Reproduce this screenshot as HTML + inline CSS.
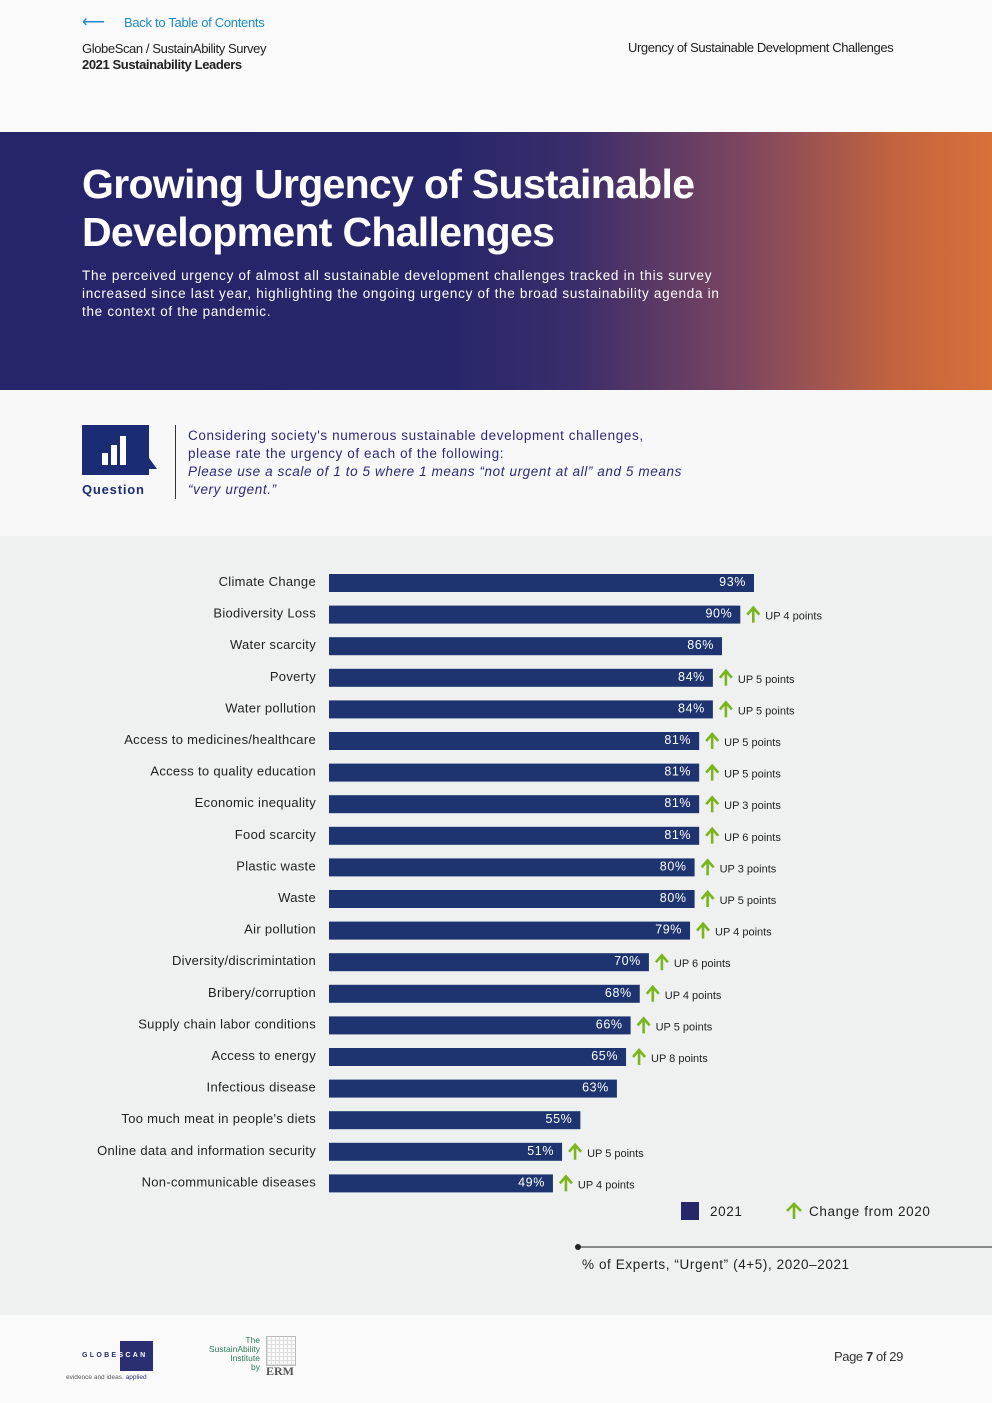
<!DOCTYPE html>
<html><head><meta charset="utf-8"><style>
*{margin:0;padding:0;box-sizing:border-box}
body{width:992px;height:1403px;background:#fafafa;font-family:"Liberation Sans",sans-serif;position:relative;overflow:hidden;color:#222}
.abs{position:absolute}
</style></head><body>
<div class="abs" style="left:82px;top:12px;color:#1e8ac6;font-size:13px;letter-spacing:-0.3px">
<span style="display:inline-block;width:42px;font-size:16px">⟵</span>Back to Table of Contents</div>
<div class="abs" style="left:82px;top:41px;font-size:13px;letter-spacing:-0.4px;line-height:16px">GlobeScan / SustainAbility Survey<br><b>2021 Sustainability Leaders</b></div>
<div class="abs" style="left:628px;top:40px;font-size:13px;letter-spacing:-0.4px">Urgency of Sustainable Development Challenges</div>

<div class="abs" style="left:0;top:132px;width:992px;height:258px;background:linear-gradient(90deg,#26246a 0%,#27266b 45%,#3a2d6a 58%,#7d4660 75%,#c2633f 90%,#d8703a 100%)">
<div style="position:absolute;left:82px;top:28px;color:#fff;font-size:41px;font-weight:bold;line-height:48px;letter-spacing:-0.7px">Growing Urgency of Sustainable<br>Development Challenges</div>
<div style="position:absolute;left:82px;top:135px;color:#fff;font-size:13.5px;line-height:18px;letter-spacing:0.7px;width:660px">The perceived urgency of almost all sustainable development challenges tracked in this survey increased since last year, highlighting the ongoing urgency of the broad sustainability agenda in the context of the pandemic.</div>
</div>

<div class="abs" style="left:0;top:390px;width:992px;height:146px;background:#f8f8f9">
<svg style="position:absolute;left:82px;top:35px" width="78" height="50"><path d="M0 0H67V33L75 44H67V50H0Z" fill="#1a2c74"/><rect x="20" y="28" width="6" height="12" fill="#fff"/><rect x="29" y="20" width="6" height="20" fill="#fff"/><rect x="38" y="11" width="6" height="29" fill="#fff"/></svg>
<div style="position:absolute;left:82px;top:92px;color:#1a2c74;font-weight:bold;font-size:13px;letter-spacing:0.8px">Question</div>
<div style="position:absolute;left:175px;top:35px;width:1px;height:74px;background:#333"></div>
<div style="position:absolute;left:188px;top:37px;color:#2d2a7a;font-size:13.5px;line-height:18px;letter-spacing:0.6px;width:520px">Considering society's numerous sustainable development challenges,<br>please rate the urgency of each of the following:<br><i>Please use a scale of 1 to 5 where 1 means “not urgent at all” and 5 means<br>“very urgent.”</i></div>
</div>

<div class="abs" style="left:0;top:536px;width:992px;height:779px;background:#eff1f1">
<svg id="chart" width="992" height="779"></svg>
</div>

<div class="abs" style="left:66px;top:1340px;width:90px;height:45px">
<div style="position:absolute;left:54px;top:1px;width:33px;height:30px;background:#2a2f73"></div>
<div style="position:absolute;left:16px;top:12px;font-size:7px;letter-spacing:2.3px;font-weight:bold;color:#2a2f73">GLOBE<span style="color:#fff">SCAN</span></div>
<div style="position:absolute;left:0;top:34px;font-size:6.5px;color:#555;white-space:nowrap">evidence and ideas. <span style="color:#2a2f73">applied</span></div>
</div>
<div class="abs" style="left:200px;top:1336px;width:100px;height:45px">
<div style="position:absolute;right:40px;top:0;text-align:right;font-size:8.5px;line-height:9px;color:#2e7d5a">The<br>SustainAbility<br>Institute<br>by</div>
<div style="position:absolute;left:66px;top:0;width:30px;height:30px;border:1px solid #bbb;background:repeating-linear-gradient(0deg,#ddd 0 1px,transparent 1px 4px),repeating-linear-gradient(90deg,#ddd 0 1px,transparent 1px 4px)"></div>
<div style="position:absolute;left:66px;top:28px;font-family:'Liberation Serif',serif;font-size:12px;color:#555;font-weight:bold">ERM</div>
</div>
<div class="abs" style="left:834px;top:1349px;font-size:13px;letter-spacing:-0.4px;color:#333">Page <b>7</b> of 29</div>

<script>
const categories=["Climate Change","Biodiversity Loss","Water scarcity","Poverty","Water pollution","Access to medicines/healthcare","Access to quality education","Economic inequality","Food scarcity","Plastic waste","Waste","Air pollution","Diversity/discrimintation","Bribery/corruption","Supply chain labor conditions","Access to energy","Infectious disease","Too much meat in people's diets","Online data and information security","Non-communicable diseases"];
const values2021=[93,90,86,84,84,81,81,81,81,80,80,79,70,68,66,65,63,55,51,49];
const changes=[null,4,null,5,5,5,5,3,6,3,5,4,6,4,5,8,null,null,5,4];
const NS="http://www.w3.org/2000/svg";
const svg=document.getElementById('chart');
const x0=329,pxPer=4.57;
const xScale=v=>x0+v*pxPer;
const yScale=i=>47+i*31.6;
function mk(t,a,txt){const e=document.createElementNS(NS,t);for(const k in a)e.setAttribute(k,a[k]);if(txt!=null)e.textContent=txt;svg.appendChild(e);return e;}
categories.forEach((c,i)=>{
 const yc=yScale(i),xe=xScale(values2021[i]);
 const l=mk('text',{x:316,y:yc+3,'text-anchor':'end','font-size':13,fill:'#222','letter-spacing':'0.3','font-family':'Liberation Sans'},c);
 
 
 const r=mk('rect',{x:x0,y:yc-9,width:xe-x0,height:18,fill:'#1d3470'});
 
 
 const v=mk('text',{x:xe-8,y:yc+3,'text-anchor':'end','font-size':12.5,fill:'#fff','letter-spacing':'0.6','font-family':'Liberation Sans'},values2021[i]+'%');
 
 
 if(changes[i]!=null){
  const ax=xe+13;
  const a=mk('path',{d:`M${ax} ${yc+8}V${yc-6}M${ax-6} ${yc}L${ax} ${yc-7}L${ax+6} ${yc}`,stroke:'#7ab51d','stroke-width':2.6,fill:'none'});
  
  
  const t=mk('text',{x:xe+25,y:yc+5,'font-size':11,fill:'#222','font-family':'Liberation Sans'},'UP '+changes[i]+' points');
  
  
 }
});
const lg=mk('rect',{x:681,y:666,width:18,height:18,fill:'#27266b'});


const lt=mk('text',{x:710,y:680,'font-size':13.5,fill:'#222','font-family':'Liberation Sans','letter-spacing':'0.6'},'2021');


const la=mk('path',{d:'M794 683V668M787 675L794 668L801 675',stroke:'#7ab51d','stroke-width':2.6,fill:'none'});


const lc=mk('text',{x:809,y:680,'font-size':13.5,fill:'#222','font-family':'Liberation Sans','letter-spacing':'0.6'},'Change from 2020');


mk('line',{x1:578,y1:711,x2:992,y2:711,stroke:'#222','stroke-width':1});
mk('circle',{cx:578,cy:711,r:3,fill:'#222'});
const nt=mk('text',{x:582,y:733,'font-size':13.5,fill:'#222','font-family':'Liberation Sans','letter-spacing':'0.6'},'% of Experts, “Urgent” (4+5), 2020–2021');


</script>
</body></html>
